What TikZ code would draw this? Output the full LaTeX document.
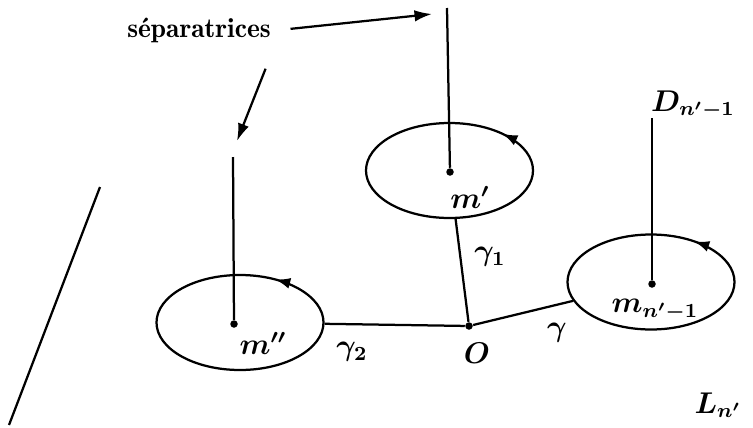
\documentclass[tikz,border=0pt]{standalone}
\usepackage{amsmath,amssymb}
\usepackage{tikz}
\usetikzlibrary{arrows.meta,positioning,calc,shapes.geometric,decorations.markings}
\tikzset{
  loopell/.style={ellipse,draw,inner sep=0pt,minimum width=66.8pt,
    minimum height=38pt,line width=0.9pt,postaction={decorate},
    decoration={markings,mark=at position #1 with
      {\arrow{Latex[length=6pt,width=4.4pt]}}}},
  ptdot/.style={circle,fill=black,inner sep=0pt,minimum size=3pt},
  mlab/.style={font=\large\boldmath,inner sep=1pt},
  sepline/.style={line width=0.9pt},
  separrow/.style={-{Latex[length=7pt,width=4.6pt]},line width=0.9pt},
}
\begin{document}
\begin{tikzpicture}[x=0.4pt,y=-0.4pt]
  \useasboundingbox (0,0) rectangle (753,427);
  % base point and the three loops
  \node[ptdot] (O) at (469,326) {};
  \node[loopell=0.12] (e1) at (449.5,170.5) {};
  \node[loopell=0.145] (e3) at (651,282) {};
  \node[loopell=0.165] (e2) at (240,322.5) {};
  \node[ptdot] (m1) at (450,172) {};
  \node[ptdot] (m3) at (652,284) {};
  \node[ptdot] (m2) at (234,324) {};
  % separatrix tops
  \coordinate (t1) at (447,8);
  \coordinate (t3) at (652,118);
  \coordinate (t2) at (233,157);
  \draw[sepline] (t1) -- (m1);
  \draw[sepline] (t3) -- (m3);
  \draw[sepline] (t2) -- (m2);
  % paths from O
  \draw[sepline] (O) -- (e1);
  \draw[sepline] (O) -- (e3);
  \draw[sepline] (O) -- (e2);
  % line L
  \coordinate (lTop) at (100,187);
  \coordinate (lBot) at (9,425);
  \draw[sepline] (lTop) -- (lBot);
  % labels
  \node[font=\fontsize{11}{13}\fontseries{b}\selectfont] (sep) at (199,30) {séparatrices};
  \coordinate (a1) at (432,14);
  \coordinate (a2) at (237,141);
  \draw[separrow,shorten <=4.4pt] (sep.east) -- (a1);
  \draw[separrow] ([xshift=-5.6pt,yshift=-7pt]sep.south east) -- (a2);
  \node[mlab] (lm1) at (470,197) {$m'$};
  \node[mlab] (lm2) at (263,343) {$m''$};
  \node[mlab] (lm3) at (655,310) {$m_{n'-1}$};
  \node[mlab] (lD) at (693,105) {$D_{n'-1}$};
  \node[mlab] (lL) at (718,405) {$L_{n'}$};
  \node[mlab] (lg1) at (490,257) {$\gamma_1$};
  \node[mlab] (lg2) at (352,352) {$\gamma_2$};
  \node[mlab] (lg) at (557,333) {$\gamma$};
  \node[mlab] (lO) at (477,353) {$O$};
\end{tikzpicture}
\end{document}
